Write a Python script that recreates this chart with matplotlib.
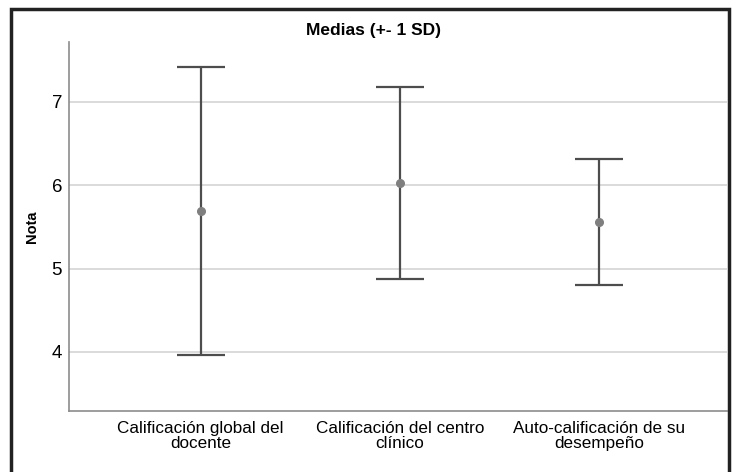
import matplotlib.pyplot as plt
from matplotlib.patches import Rectangle

categories = ['Calificación global del\ndocente',
              'Calificación del centro\nclínico',
              'Auto-calificación de su\ndesempeño']
means = [5.69, 6.03, 5.56]
sd = [1.73, 1.15, 0.76]

plt.rcParams['font.family'] = ['Liberation Sans', 'DejaVu Sans']

fig = plt.figure(figsize=(7.37, 4.72), dpi=100)
ax = fig.add_axes([69 / 737, 1 - 411 / 472, 658 / 737, 369 / 472])

x = list(range(len(categories)))
ax.errorbar(x, means, yerr=sd, fmt='o', color='#7f7f7f', markersize=5.5,
            ecolor='#4d4d4d', elinewidth=1.6, capsize=17, capthick=1.6, zorder=3)

ax.set_xlim(-0.66, 2.64)
ax.set_ylim(3.29, 7.72)
ax.set_yticks([4, 5, 6, 7])
ax.set_xticks(x)
ax.set_xticklabels(categories, fontsize=12.3, linespacing=1.0)
ax.tick_params(axis='x', length=0, pad=7)
ax.tick_params(axis='y', length=0, labelsize=13.5, pad=5)
ax.yaxis.grid(True, color='#d4d4d4', linewidth=1.2)
ax.set_axisbelow(True)
for side in ['top', 'right']:
    ax.spines[side].set_visible(False)
for side in ['left', 'bottom']:
    ax.spines[side].set_color('#8c8c8c')
    ax.spines[side].set_linewidth(1.2)

ax.set_ylabel('Nota', fontsize=10.5, fontweight='bold')
ax.yaxis.set_label_coords(-30 / 658, (411 - 227) / 369)

fig.text(0.507, 1 - 30 / 472, 'Medias (+- 1 SD)', ha='center', va='center',
         fontsize=12.5, fontweight='bold')

# outer frame
fig.patches.append(Rectangle((10.5 / 737, -0.05), 718.5 / 737, 1.05 - 9.5 / 472,
                             transform=fig.transFigure, fill=False,
                             edgecolor='#222222', linewidth=2.5))

fig.savefig('out.png', dpi=100)
